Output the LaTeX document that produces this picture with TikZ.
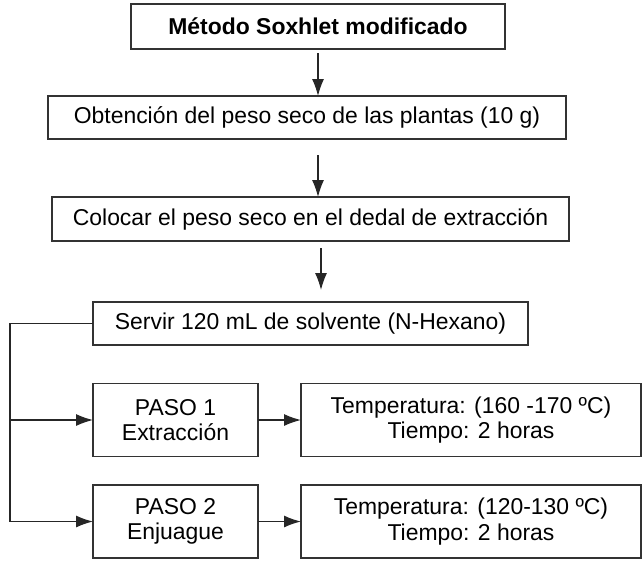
\documentclass[tikz,border=0pt]{standalone}
\usepackage{fontspec}
\setmainfont{Liberation Sans}
\usetikzlibrary{arrows.meta}
\tikzset{
  caja/.style={shape=rectangle,draw=black!80,line width=0.9pt,inner sep=0pt,outer sep=0pt,
    align=center,font=\fontsize{16.3}{18}\selectfont},
  flecha/.style={color=black!85,line width=0.9pt,-{Latex[length=12pt,width=8.5pt]}}
}
\begin{document}
\begin{tikzpicture}[x=0.025cm,y=-0.025cm]
\useasboundingbox (0,0) rectangle (643,560);
\node(title) at (318,26.5)[caja,minimum width=9.35cm,minimum height=1.125cm]  {\textbf{Método Soxhlet modificado}};
\node(obt)   at (307,117.5)[caja,minimum width=12.95cm,minimum height=1.075cm] {Obtención del peso seco de las plantas (10 g)};
\node(col)   at (310.5,219)[caja,minimum width=12.925cm,minimum height=1.1cm]  {Colocar el peso seco en el dedal de extracción};
\node(serv)  at (310.5,323.5)[caja,minimum width=10.875cm,minimum height=1.075cm] {Servir 120 mL de solvente (N-Hexano)};
\node(paso1) at (175.5,420)[caja,minimum width=4.125cm,minimum height=1.825cm] {PASO 1\\Extracción};
\node(paso2) at (175.5,521.5)[caja,minimum width=4.125cm,minimum height=1.825cm] {PASO 2\\Enjuague};
\node(temp1) at (471,420)[caja,minimum width=8.5cm,minimum height=1.825cm] {Temperatura: (160 -170 ºC)\\Tiempo: 2 horas};
\node(temp2) at (471,521.5)[caja,minimum width=8.5cm,minimum height=1.825cm] {Temperatura: (120-130 ºC)\\Tiempo: 2 horas};
\coordinate(corner) at (10,323.5);

\path [flecha]
  (title.south)                       edge [shorten <=0.1cm]                 (title.south |- obt.north)
  (obt.south -| title.south)          edge [shorten <=0.4cm]                 (title.south |- col.north)
  ([xshift=0.075cm]col.south -| title.south) edge [shorten <=0.175cm,shorten >=0.3cm] ([xshift=0.075cm]title.south |- serv.north)
  (corner |- paso1.west)              edge                                   (paso1.west)
  (paso1.east)                        edge                                   (temp1.west)
  (paso2.east)                        edge                                   (temp2.west);
\draw [flecha] (serv.west) -- (corner) |- (paso2.west);

\end{tikzpicture}
\end{document}
